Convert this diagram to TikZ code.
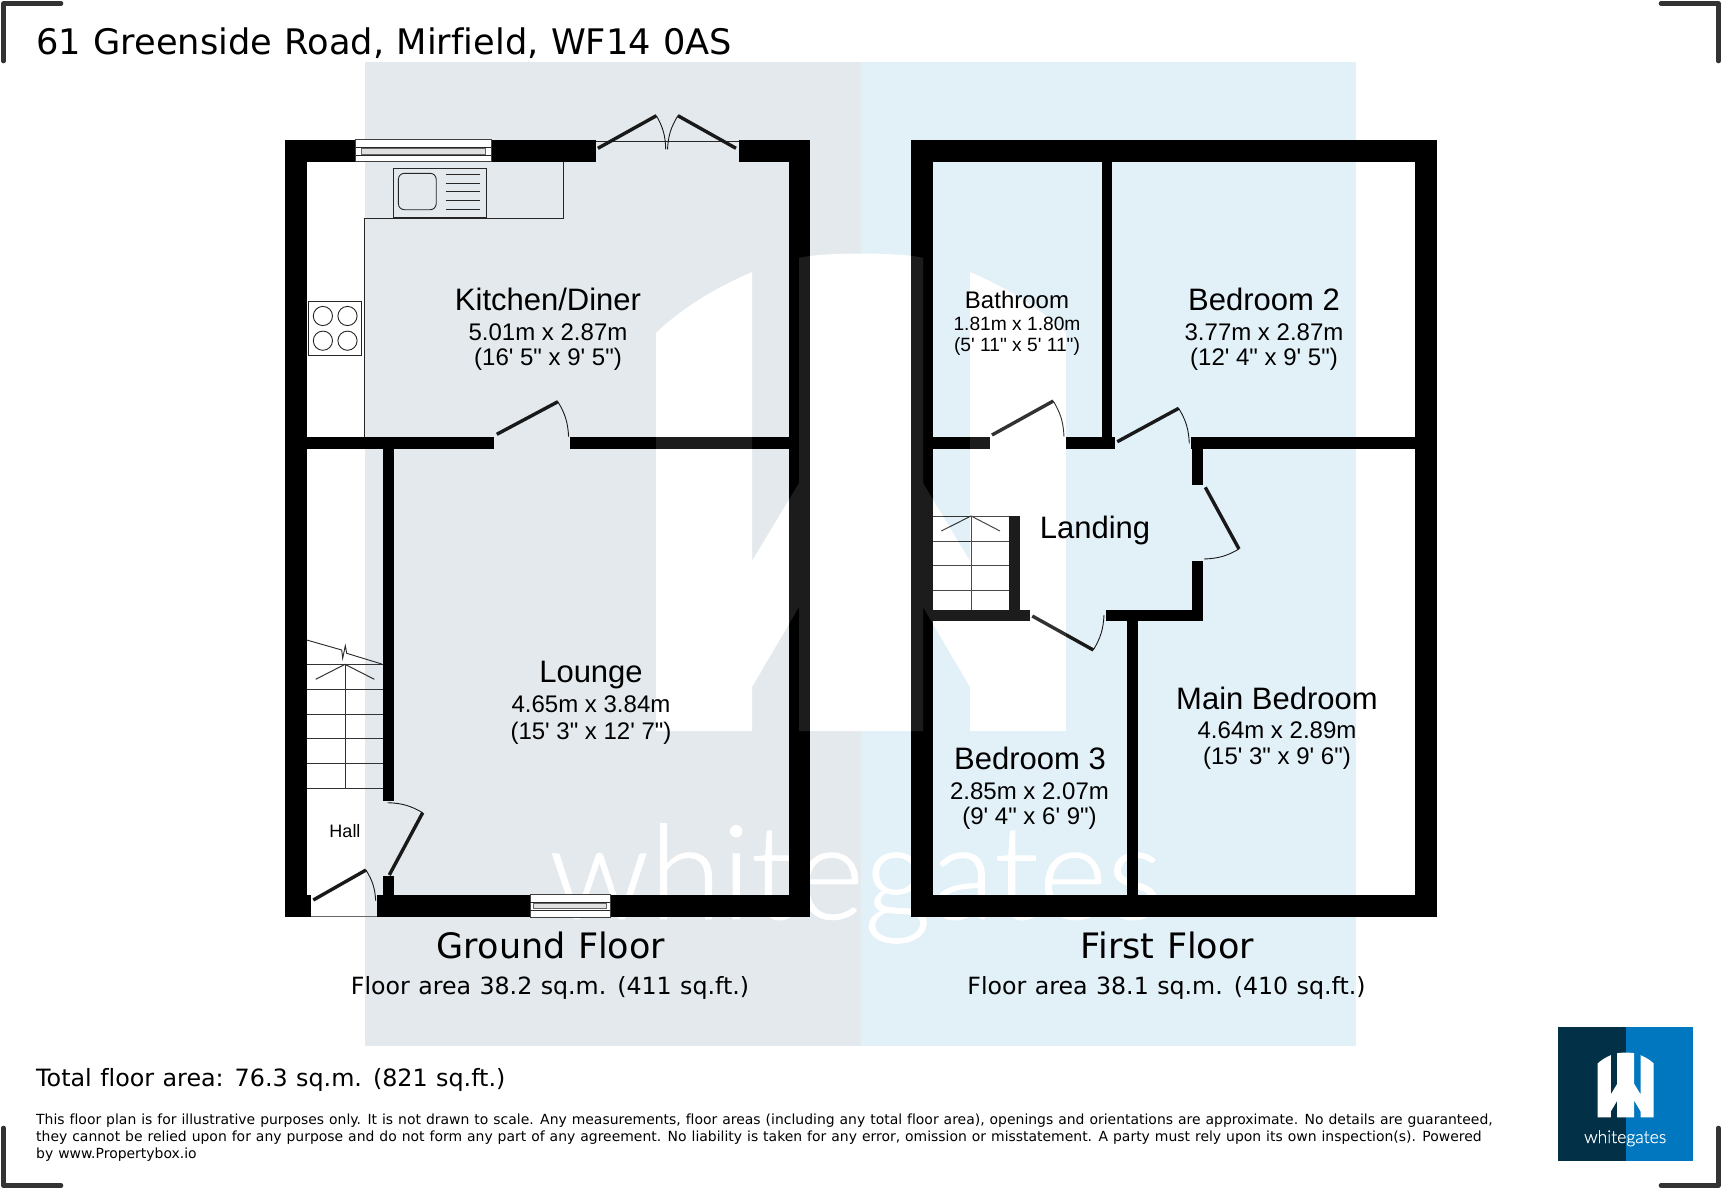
\documentclass[tikz,border=0pt]{standalone}
\usepackage{fontspec}
\newfontfamily\arial{Liberation Sans}
\newfontfamily\verd[WordSpace=1.12,Ligatures=NoCommon]{DejaVu Sans}
\newfontfamily\wmfont[FakeBold=0.7]{Lato Light}
\newcommand{\fsz}[1]{\fontsize{#1}{#1}\selectfont}
\newcommand{\WPath}{(656,731) -- (656,333) .. controls (682,308) and (715,288) .. (752,272) -- (752,561) -- (799,483) -- (799,258) .. controls (820,252) and (902,252) .. (923,258) -- (923,483) -- (970,561) -- (970,272) .. controls (1007,288) and (1040,308) .. (1066,333) -- (1066,731) -- (970,731) -- (970,687) -- (923,607) -- (923,731) -- (799,731) -- (799,607) -- (752,687) -- (752,731) -- cycle}
\definecolor{fpgrey}{HTML}{E3E9EC}
\definecolor{fpblue}{HTML}{E2F0F8}
\definecolor{logodark}{HTML}{023047}
\definecolor{logoblue}{HTML}{0077BE}
\definecolor{bracket}{HTML}{333333}
\tikzset{
  x=1pt,y=-1pt,
  wall/.style={fill=black},
  fine/.style={draw=black!85,line width=0.9pt},
  leaf/.style={draw=black!90,line width=3.4pt},
  swing/.style={draw=black!90,line width=0.9pt},
  stairline/.style={draw=black!80,line width=1pt},
  win/.style={draw=black!75,line width=0.9pt,fill=white},
  wininner/.style={draw=black!60,line width=0.8pt,fill=black!12},
  corner/.style={draw=bracket,line width=4.6pt,line cap=round,line join=round},
  rname/.style={inner sep=0pt,font=\arial\fsz{31}},
  rdim/.style={inner sep=0pt,font=\arial\fsz{24}},
  sname/.style={inner sep=0pt,font=\arial\fsz{24}},
  sdim/.style={inner sep=0pt,font=\arial\fsz{19.2}},
  floorname/.style={inner sep=0pt,font=\verd\fsz{35}},
  floorarea/.style={inner sep=0pt,font=\verd\fsz{23.7}},
  headline/.style={inner sep=0pt,anchor=base west,font=\verd\fsz{35.2}},
  totalline/.style={inner sep=0pt,anchor=base west,font=\verd\fsz{23.8}},
  small/.style={inner sep=0pt,anchor=base west,font=\verd\fsz{13.95}},
}
\begin{document}
\begin{tikzpicture}
\useasboundingbox (0,0) rectangle (1722,1189);
% backgrounds
\fill[white] (0,0) rectangle (1722,1189);
\fill[fpgrey] (365,62) rectangle (861,1046);
\fill[fpblue] (861,62) rectangle (1356,1046);
% watermark
\fill[white] \WPath;
\node[inner sep=0pt,anchor=base west,text=white] (wmtext) at (549,919) {\resizebox{613pt}{!}{\wmfont whitegates}};
% ---------- ground floor walls
\fill[wall] (285.4,140) rectangle (307,917);
\fill[wall] (789,140) rectangle (810.4,917);
\fill[wall] (285.4,140) rectangle (355.7,162);
\fill[wall] (491.4,140) rectangle (595.7,162);
\fill[wall] (738.6,140) rectangle (810.4,162);
\fill[wall] (307,437) rectangle (494.3,449);
\fill[wall] (570,437) rectangle (789,449);
\fill[wall] (382.8,449) rectangle (394,800.7);
\fill[wall] (382.8,876) rectangle (394,895.3);
\fill[wall] (285.4,895.3) rectangle (311,917);
\fill[wall] (376.7,895.3) rectangle (530,917);
\fill[wall] (610,895.3) rectangle (810.4,917);
\draw[fine,draw=black!60] (311,916) -- (376.7,916);
% windows
\draw[win] (355.7,139.5) rectangle (491.4,161);
\draw[fine] (355.7,147.7) -- (491.4,147.7) (355.7,155) -- (491.4,155);
\draw[wininner] (361.8,148) rectangle (485,154.7);
\draw[win] (530,894.5) rectangle (610,917);
\draw[fine] (530,902) -- (610,902) (530,910) -- (610,910);
\draw[wininner] (533.3,903) rectangle (606.7,908.5);
% patio doors
\draw[fine] (595.7,141.3) -- (738.6,141.3);
\draw[leaf] (597.9,148.3) -- (656.4,115.7);
\draw[leaf] (736,148.3) -- (677.9,115.7);
\draw[swing] (656.4,115.7) to[bend left=14] (665.7,149.3);
\draw[swing] (677.9,115.7) to[bend right=14] (667.5,149.3);
% kitchen door
\draw[leaf] (496.8,434.3) -- (557.9,401.7);
\draw[swing] (557.9,401.7) to[bend left=14] (568.6,436.7);
% worktop
\draw[fine] (563.6,162) -- (563.6,218.7) -- (364,218.7) -- (364,437);
\draw[fine,fill=fpgrey] (393,168.3) rectangle (486.2,217);
\draw[fine,rounded corners=6pt] (398.4,173.3) rectangle (436.2,209.7);
\draw[fine] (445.5,174.7) -- (479.5,174.7) (445.5,183.3) -- (479.5,183.3) (445.5,191.7) -- (479.5,191.7) (445.5,200.3) -- (479.5,200.3) (445.5,209) -- (479.5,209);
% hob
\draw[fine,fill=white] (308.6,301.7) rectangle (361.8,355);
\draw[fine] (322.9,316) circle (9.6) (347.5,316) circle (9.6) (322.9,340.7) circle (9.6) (347.5,340.7) circle (9.6);
% ground stairs
\draw[stairline] (306.7,664.3) -- (382.7,664.3) (306.7,689) -- (382.7,689) (306.7,714.3) -- (382.7,714.3) (306.7,738.7) -- (382.7,738.7) (306.7,763.3) -- (382.7,763.3) (306.7,788.3) -- (382.7,788.3) (345,664.3) -- (345,788.3);
\draw[stairline] (315.7,679.3) -- (345,664.3) -- (374.3,679.3);
\draw[fine] (306.7,640) -- (341.7,650) -- (342.7,658.3) -- (345.3,645.7) -- (346.7,653.3) -- (381.7,664);
% hall doors
\draw[leaf] (389.3,875) -- (422.7,812.7);
\draw[swing] (422.7,812.7) to[bend right=14] (387.7,802.7);
\draw[leaf] (313.3,900) -- (366,870);
\draw[swing] (366,870) to[bend left=14] (375.7,900.7);
% ---------- first floor walls
\fill[wall] (911,140) rectangle (933,917);
\fill[wall] (1414.5,140) rectangle (1436.5,917);
\fill[wall] (911,140) rectangle (1436.5,162);
\fill[wall] (911,895) rectangle (1436.5,917);
\fill[wall] (933,437) rectangle (990,449);
\fill[wall] (1065.7,437) rectangle (1115,449);
\fill[wall] (1190.7,437) rectangle (1414.5,449);
\fill[wall] (1101.7,162) rectangle (1112.3,437);
\fill[wall] (1192,449) rectangle (1203.3,485);
\fill[wall] (1192,560.7) rectangle (1203.3,621.3);
\fill[wall] (933,610) rectangle (1030,621.3);
\fill[wall] (1105.7,610) rectangle (1203.3,621.3);
\fill[wall] (1008.7,516) rectangle (1019.7,610);
\fill[wall] (1126.7,621) rectangle (1137.7,895);
% first stairs
\draw[stairline] (933,516) -- (1008.7,516) (933,541) -- (1008.7,541) (933,565.7) -- (1008.7,565.7) (933,590.7) -- (1008.7,590.7) (971,516) -- (971,610);
\draw[stairline] (941.3,531) -- (971,516) -- (1000,531);
% first doors
\draw[leaf] (992,435) -- (1053.3,401);
\draw[swing] (1053.3,401) to[bend left=14] (1064,436.7);
\draw[leaf] (1117.3,441.7) -- (1178.7,408.3);
\draw[swing] (1178.7,408.3) to[bend left=14] (1189.3,443.3);
\draw[leaf] (1205.3,487.3) -- (1239,549);
\draw[swing] (1239,549) to[bend left=14] (1204,559);
\draw[leaf] (1032.3,616) -- (1093.3,650);
\draw[swing] (1093.3,650) to[bend right=14] (1104,615);
% watermark veil over the walls
\fill[white,fill opacity=0.11] \WPath;
% ---------- room labels
\node[rname] (kname) at (548,299) {Kitchen/Diner};
\node[rdim] (kdim) at (548,332) {5.01m x 2.87m};
\node[rdim] (kimp) at (548,359) {(16' 5" x 9' 5")};
\node[rname] (lname) at (591,675) {Lounge};
\node[rdim] (ldim) at (591,704) {4.65m x 3.84m};
\node[rdim] (limp) at (591,733) {(15' 3" x 12' 7")};
\node[inner sep=0pt,font=\arial\fsz{18}] (hall) at (345,831) {Hall};
\node[sname] (bname) at (1017,300) {Bathroom};
\node[sdim] (bdim) at (1017,324) {1.81m x 1.80m};
\node[sdim] (bimp) at (1017,347) {(5' 11" x 5' 11")};
\node[rname] (b2name) at (1264,299) {Bedroom 2};
\node[rdim] (b2dim) at (1264,332) {3.77m x 2.87m};
\node[rdim] (b2imp) at (1264,359) {(12' 4" x 9' 5")};
\node[rname] (land) at (1095,530) {Landing};
\node[rname] (b3name) at (1030,758) {Bedroom 3};
\node[rdim] (b3dim) at (1029.5,791) {2.85m x 2.07m};
\node[rdim] (b3imp) at (1029.5,818) {(9' 4" x 6' 9")};
\node[rname] (mname) at (1277,698) {Main Bedroom};
\node[rdim] (mdim) at (1277,730) {4.64m x 2.89m};
\node[rdim] (mimp) at (1277,758) {(15' 3" x 9' 6")};
% ---------- floor captions
\node[floorname] (gf) at (551,945.5) {Ground Floor};
\node[floorarea] (gfa) at (550,987.5) {Floor area 38.2 sq.m. (411 sq.ft.)};
\node[floorname] (ff) at (1167.5,945.5) {First Floor};
\node[floorarea] (ffa) at (1166.5,987.5) {Floor area 38.1 sq.m. (410 sq.ft.)};
% ---------- header and footer
\node[headline] (title) at (36,54) {61 Greenside Road, Mirfield, WF14 0AS};
\node[totalline] (total) at (36,1086) {Total floor area: 76.3 sq.m. (821 sq.ft.)};
\node[small] (d1) at (36,1124) {This floor plan is for illustrative purposes only. It is not drawn to scale. Any measurements, floor areas (including any total floor area), openings and orientations are approximate. No details are guaranteed,};
\node[small] (d2) at (36,1141) {they cannot be relied upon for any purpose and do not form any part of any agreement. No liability is taken for any error, omission or misstatement. A party must rely upon its own inspection(s). Powered};
\node[small] (d3) at (36,1158) {by www.Propertybox.io};
% ---------- logo
\fill[logodark] (1558.3,1027.3) rectangle (1625.7,1160.7);
\fill[logoblue] (1625.7,1027.3) rectangle (1692.7,1160.7);
\begin{scope}[shift={(1625.7,1052.7)},x=0.1366pt,y=-0.1357pt,shift={(-861,-254)}]
\fill[white] \WPath;
\end{scope}
\node[inner sep=0pt,anchor=base west,text=white] (logotext) at (1584,1143) {\resizebox{82pt}{!}{\wmfont whitegates}};
% ---------- corner brackets
\draw[corner] (3.5,61) -- (3.5,3.5) -- (61,3.5);
\draw[corner] (1661,3.5) -- (1718.5,3.5) -- (1718.5,61);
\draw[corner] (3.5,1128) -- (3.5,1185.5) -- (61,1185.5);
\draw[corner] (1661,1185.5) -- (1718.5,1185.5) -- (1718.5,1128);
\end{tikzpicture}
\end{document}
